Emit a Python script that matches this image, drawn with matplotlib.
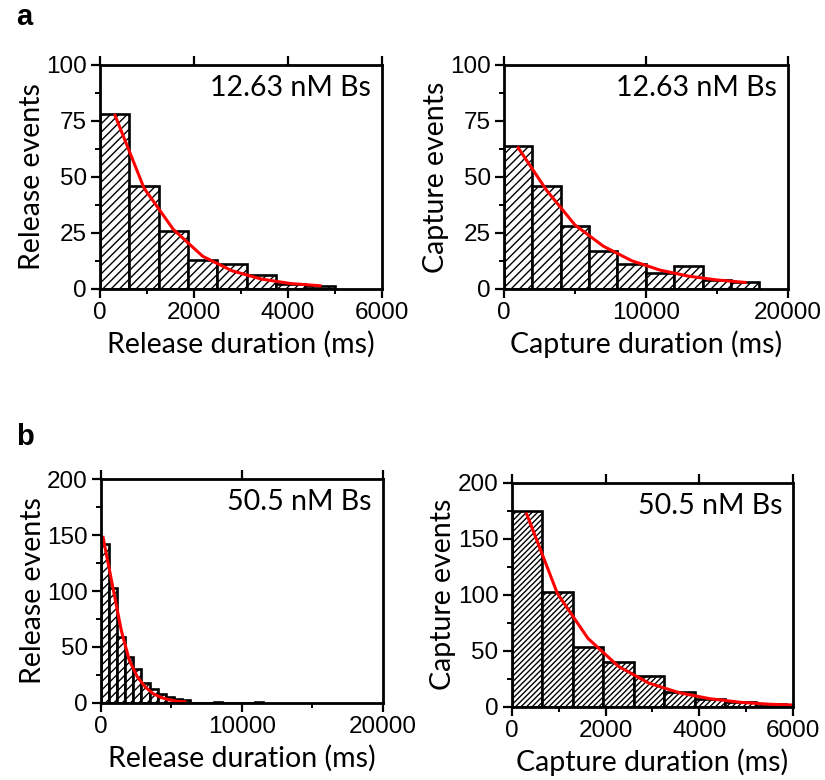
import numpy as np
import matplotlib.pyplot as plt
from matplotlib.ticker import MultipleLocator

plt.rcParams['hatch.linewidth'] = 1.0
plt.rcParams['hatch.color'] = 'black'

# ---- data ----
# (a) 12.63 nM Bs
rel_a_bin = 625
rel_a_counts = [78, 46, 26, 13, 11, 6, 2, 1]
rel_a_fit_x = [320, 937, 1562, 2187, 2812, 3437, 4062, 4687]
rel_a_fit_y = [77.5, 45, 26.5, 14.5, 8, 4.3, 2.3, 1.3]

cap_a_bin = 2000
cap_a_counts = [64, 46, 28, 17, 11, 7, 10, 4, 3]
cap_a_fit_x = [1000, 3000, 5000, 7000, 9000, 11000, 13000, 15000, 17000]
cap_a_fit_y = [63, 44, 28.5, 19, 12.5, 8.3, 5.6, 3.9, 2.8]

# (b) 50.5 nM Bs
rel_b_bin = 575
rel_b_counts = [142, 103, 59, 41, 30, 18, 12, 8, 5, 3, 2, 0, 0, 0, 1, 0, 0, 0, 0, 1]
rel_b_fit_x = [150, 862, 1437, 2012, 2587, 3162, 3737, 4312, 4887, 5462, 5950]
rel_b_fit_y = [148, 102, 65, 38, 23, 13.8, 7.8, 4.5, 2.4, 1.2, 0.8]

cap_b_bin = 650
cap_b_counts = [175, 102, 53, 40, 27, 13, 7, 4, 2]
cap_b_fit_x = [320, 975, 1625, 2275, 2925, 3575, 4225, 4875, 5525, 6000]
cap_b_fit_y = [172, 101, 61, 36, 21, 12.4, 7.1, 3.9, 2.1, 1.5]

label_font = 'Lato'
tick_font = 'Liberation Sans'


def draw_hist(ax, bin_w, counts, fit_x, fit_y, xmax, ymax, xmaj, xmin_, ymaj, ymin_,
              xlabel, ylabel, conc, hatch='////'):
    counts = np.array(counts)
    left = np.arange(len(counts)) * bin_w
    ax.bar(left, counts, width=bin_w, align='edge', color='white',
           edgecolor='black', linewidth=1.9, hatch=hatch, zorder=2)
    ax.plot(fit_x, fit_y, color='red', linewidth=2.2, zorder=3)
    ax.set_xlim(0, xmax)
    ax.set_ylim(0, ymax)
    ax.xaxis.set_major_locator(MultipleLocator(xmaj))
    ax.xaxis.set_minor_locator(MultipleLocator(xmin_))
    ax.yaxis.set_major_locator(MultipleLocator(ymaj))
    ax.yaxis.set_minor_locator(MultipleLocator(ymin_))
    for s in ax.spines.values():
        s.set_linewidth(2.0)
        s.set_zorder(4)
    ax.tick_params(which='major', direction='out', length=6.5, width=1.6,
                   labelsize=17.5, pad=3, top=True)
    ax.tick_params(which='minor', direction='out', length=3.5, width=1.4)
    for lab in ax.get_xticklabels() + ax.get_yticklabels():
        lab.set_family(tick_font)
    ax.set_xlabel(xlabel, fontsize=20.5, family=label_font, labelpad=5)
    ax.set_ylabel(ylabel, fontsize=20.5, family=label_font, labelpad=1)
    ax.text(0.962, 0.955, conc, transform=ax.transAxes, ha='right', va='top',
            fontsize=20.5, family=label_font, zorder=5)


fig = plt.figure(figsize=(8.25, 7.8), dpi=100)

ax1 = fig.add_axes([0.1212, 0.6299, 0.3414, 0.2868])
ax2 = fig.add_axes([0.6109, 0.6299, 0.3439, 0.2868])
ax3 = fig.add_axes([0.1224, 0.0991, 0.3414, 0.2864])
ax4 = fig.add_axes([0.6202, 0.0940, 0.3413, 0.2872])

draw_hist(ax1, rel_a_bin, rel_a_counts, rel_a_fit_x, rel_a_fit_y, 6000, 100,
          2000, 1000, 25, 12.5, 'Release duration (ms)', 'Release events', '12.63 nM Bs')
draw_hist(ax2, cap_a_bin, cap_a_counts, cap_a_fit_x, cap_a_fit_y, 20000, 100,
          10000, 5000, 25, 12.5, 'Capture duration (ms)', 'Capture events', '12.63 nM Bs')
draw_hist(ax3, rel_b_bin, rel_b_counts, rel_b_fit_x, rel_b_fit_y, 20000, 200,
          10000, 5000, 50, 25, 'Release duration (ms)', 'Release events', '50.5 nM Bs')
draw_hist(ax4, cap_b_bin, cap_b_counts, cap_b_fit_x, cap_b_fit_y, 6000, 200,
          2000, 1000, 50, 25, 'Capture duration (ms)', 'Capture events', '50.5 nM Bs',
          hatch='//////')

fig.text(0.02, 0.996, 'a', fontsize=21, fontweight='bold', family='Liberation Sans',
         ha='left', va='top')
fig.text(0.02, 0.458, 'b', fontsize=21, fontweight='bold', family='Liberation Sans',
         ha='left', va='top')

fig.savefig('out.png', dpi=100)
